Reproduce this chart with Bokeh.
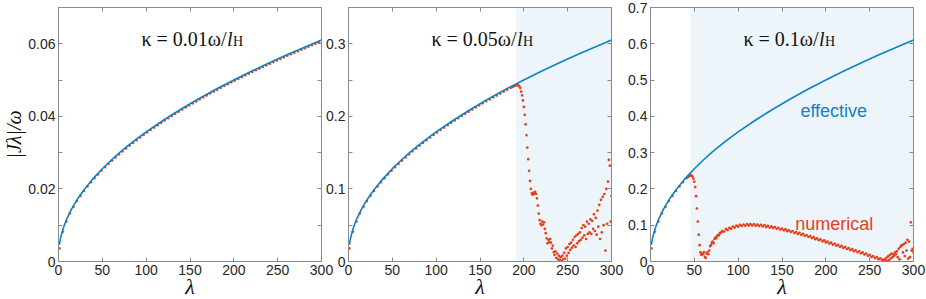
from bokeh.plotting import figure
from bokeh.models import (Range1d, FixedTicker, LinearAxis, BoxAnnotation, Label,
                          ColumnDataSource, PrintfTickFormatter)
from bokeh.layouts import row
from bokeh.embed import file_html
from bokeh.resources import INLINE

# ---------------- data ----------------
kappa_labels = ["0.01", "0.05", "0.1"]
y_max = [0.07, 0.35, 0.7]
y_major = [[0, 0.02, 0.04, 0.06], [0, 0.1, 0.2, 0.3], [0, 0.1, 0.2, 0.3, 0.4, 0.5, 0.6, 0.7]]
y_minor = [[0.01, 0.03, 0.05, 0.07], [0.05, 0.15, 0.25, 0.35], []]
x_ticks = [0, 50, 100, 150, 200, 250, 300]
shade_start = [None, 191.0, 45.5]

lam_eff = [1, 2, 3, 5, 7, 10, 15, 20, 25, 30, 40, 50, 60, 70, 80, 90, 100,
           120, 140, 160, 180, 200, 220, 240, 260, 280, 300]
eff_k001 = [0.00456, 0.00599, 0.00709, 0.00884, 0.01025, 0.01204, 0.01450, 0.01657, 0.01840,
            0.02005, 0.02298, 0.02557, 0.02790, 0.03005, 0.03205, 0.03392, 0.03570, 0.03900,
            0.04204, 0.04487, 0.04752, 0.05003, 0.05242, 0.05470, 0.05689, 0.05900, 0.06103]
eff_k005 = [0.0228, 0.0300, 0.0355, 0.0442, 0.0513, 0.0602, 0.0725, 0.0829, 0.0920, 0.1003,
            0.1149, 0.1279, 0.1395, 0.1503, 0.1603, 0.1696, 0.1785, 0.1950, 0.2102, 0.2244,
            0.2376, 0.2502, 0.2621, 0.2735, 0.2845, 0.2950, 0.3052]
eff_k010 = [0.0456, 0.0599, 0.0709, 0.0884, 0.1025, 0.1204, 0.1450, 0.1657, 0.1840, 0.2005,
            0.2298, 0.2557, 0.2790, 0.3005, 0.3205, 0.3392, 0.3570, 0.3900, 0.4204, 0.4487,
            0.4752, 0.5003, 0.5242, 0.5470, 0.5689, 0.5900, 0.6103]

lam_num_k001 = list(range(1, 298, 4))
num_k001 = [0.0036, 0.0082, 0.0110, 0.01328, 0.01507, 0.01666, 0.0181, 0.01943, 0.02068, 0.02185,
            0.02295, 0.02401, 0.02502, 0.02599, 0.02692, 0.02782, 0.02869, 0.02954, 0.03036, 0.03116,
            0.03194, 0.03270, 0.03344, 0.03417, 0.03488, 0.03557, 0.03625, 0.03692, 0.03758, 0.03823,
            0.03886, 0.03948, 0.04010, 0.04070, 0.04130, 0.04188, 0.04247, 0.04304, 0.04360, 0.04415,
            0.04470, 0.04524, 0.04578, 0.04631, 0.04683, 0.04735, 0.04786, 0.04837, 0.04887, 0.04937,
            0.04985, 0.05034, 0.05082, 0.05130, 0.05177, 0.05224, 0.05270, 0.05316, 0.05361, 0.05407,
            0.05451, 0.05496, 0.05540, 0.05584, 0.05627, 0.05670, 0.05713, 0.05755, 0.05797, 0.05839,
            0.05880, 0.05921, 0.05962, 0.06003, 0.06043]

lam_num_k005 = list(range(1, 186, 4)) + list(range(187, 301))
num_k005 = [0.018, 0.041, 0.055, 0.0664, 0.0754, 0.0833, 0.0905, 0.0972, 0.1034, 0.1093,
            0.1148, 0.1201, 0.1251, 0.1300, 0.1346, 0.1391, 0.1435, 0.1477, 0.1518, 0.1558,
            0.1597, 0.1635, 0.1672, 0.1709, 0.1744, 0.1779, 0.1813, 0.1846, 0.1879, 0.1912,
            0.1943, 0.1974, 0.2005, 0.2035, 0.2065, 0.2094, 0.2124, 0.2152, 0.2180, 0.2208,
            0.2235, 0.2262, 0.2289, 0.2316, 0.2342, 0.2368, 0.2393,
            # lambda 187 .. 300
            0.2405, 0.2413, 0.2420, 0.2426, 0.2430, 0.2432, 0.2430, 0.2425, 0.2410, 0.2390,
            0.2340, 0.2290, 0.2220, 0.2130, 0.2020, 0.1890, 0.1740, 0.1570, 0.1410, 0.1250,
            0.1110, 0.1000, 0.0940, 0.0920, 0.0950, 0.0930, 0.0960, 0.0930, 0.0870, 0.0770,
            0.0660, 0.0570, 0.0520, 0.0500, 0.0550, 0.0510, 0.0540, 0.0450, 0.0390, 0.0320,
            0.0250, 0.0300, 0.0270, 0.0310, 0.0260, 0.0180, 0.0220, 0.0130, 0.0090, 0.0140,
            0.0050, 0.0110, 0.0030, 0.0080, 0.0020, 0.0060, 0.0010, 0.0080, 0.0030, 0.0120,
            0.0040, 0.0180, 0.0080, 0.0200, 0.0120, 0.0240, 0.0160, 0.0260, 0.0190, 0.0300,
            0.0220, 0.0340, 0.0200, 0.0360, 0.0250, 0.0380, 0.0280, 0.0400, 0.0300, 0.0460,
            0.0330, 0.0500, 0.0360, 0.0480, 0.0310, 0.0550, 0.0380, 0.0520, 0.0400, 0.0580,
            0.0380, 0.0560, 0.0450, 0.0650, 0.0420, 0.0600, 0.0370, 0.0700, 0.0480, 0.0780,
            0.0310, 0.0850, 0.0400, 0.0890, 0.0500, 0.0930, 0.0150, 0.1000, 0.0520, 0.1100,
            0.1400, 0.1320, 0.0550, 0.0900]

lam_num_k010 = (list(range(1, 42, 4)) + list(range(43, 82)) + list(range(82, 265, 2))
                + list(range(265, 301)))
num_k010 = [0.036, 0.082, 0.110, 0.1328, 0.1507, 0.1666, 0.181, 0.1943, 0.2068, 0.2185, 0.2295,
            # lambda 43 .. 81
            0.2330, 0.2355, 0.2370, 0.2375, 0.2365, 0.2335, 0.2280, 0.2200, 0.2050, 0.1800,
            0.1460, 0.1100, 0.0740, 0.0450, 0.0250, 0.0180, 0.0220, 0.0200, 0.0260, 0.0130,
            0.0100, 0.0220, 0.0250, 0.0200, 0.0300, 0.0420, 0.0450, 0.0520, 0.0550, 0.0500,
            0.0620, 0.0660, 0.0640, 0.0700, 0.0730, 0.0720, 0.0780, 0.0790, 0.0810,
            # lambda 82 .. 264 (step 2)
            0.084, 0.0825, 0.089, 0.087, 0.093, 0.0905, 0.096, 0.0935, 0.099, 0.096,
            0.101, 0.0975, 0.102, 0.0985, 0.103, 0.099, 0.103, 0.099, 0.103, 0.0985,
            0.102, 0.0975, 0.101, 0.0965, 0.100, 0.095, 0.098, 0.0935, 0.097, 0.092,
            0.095, 0.090, 0.093, 0.088, 0.091, 0.086, 0.089, 0.0835, 0.086, 0.081,
            0.084, 0.0785, 0.081, 0.076, 0.079, 0.0735, 0.076, 0.0705, 0.073, 0.0675,
            0.070, 0.0645, 0.067, 0.0615, 0.064, 0.0585, 0.061, 0.0555, 0.058, 0.0525,
            0.055, 0.0495, 0.052, 0.0465, 0.049, 0.0435, 0.046, 0.0405, 0.043, 0.0375,
            0.040, 0.0345, 0.037, 0.0315, 0.034, 0.0285, 0.031, 0.0255, 0.028, 0.0225,
            0.025, 0.0195, 0.022, 0.016, 0.018, 0.0125, 0.015, 0.0095, 0.012, 0.0065,
            0.009, 0.005,
            # lambda 265 .. 300
            0.004, 0.002, 0.006, 0.003, 0.010, 0.002, 0.014, 0.004, 0.018, 0.008,
            0.022, 0.012, 0.020, 0.016, 0.025, 0.020, 0.028, 0.012, 0.035, 0.006,
            0.040, 0.044, 0.045, 0.025, 0.048, 0.015, 0.052, 0.030, 0.060, 0.008,
            0.055, 0.012, 0.108, 0.030, 0.035, 0.025]

effective = [eff_k001, eff_k005, eff_k010]
lam_num = [lam_num_k001, lam_num_k005, lam_num_k010]
numerical = [num_k001, num_k005, num_k010]

# ---------------- styling ----------------
BLUE = "#0a84c6"
RED = "#e4411b"
SHADE = "#eef5fa"
AXC = "#8a8a8a"
TXT = "#262626"
FRAME_W, FRAME_H = 263, 254
borders_left = [56, 25, 37]
borders_right = [13, 13, 15]
margins = [(0, -11, 0, 0), (0, -11, 0, 0), (0, 0, 0, 0)]


def style_axis(ax, labels=True):
    ax.axis_line_color = AXC
    ax.major_tick_line_color = AXC
    ax.minor_tick_line_color = AXC
    ax.major_tick_in = 4
    ax.major_tick_out = 0
    ax.minor_tick_in = 4
    ax.minor_tick_out = 0
    ax.major_label_text_font = "Liberation Sans"
    ax.formatter = PrintfTickFormatter(format="%g")
    if labels:
        ax.major_label_text_font_size = "14px"
        ax.major_label_text_color = TXT
        ax.major_label_standoff = 3
    else:
        ax.major_label_text_font_size = "0px"
        ax.major_label_text_color = None
        ax.major_label_text_alpha = 0
        ax.major_label_standoff = 0


panels = []
for i in range(3):
    p = figure(frame_width=FRAME_W, frame_height=FRAME_H,
               x_range=Range1d(0, 300), y_range=Range1d(0, y_max[i]),
               output_backend="svg", toolbar_location=None,
               min_border_left=borders_left[i], min_border_right=borders_right[i],
               min_border_top=7, min_border_bottom=38, margin=margins[i])
    p.border_fill_color = None
    p.background_fill_color = "white"
    p.outline_line_color = AXC
    p.grid.visible = False

    bottom_ax = p.below[0]
    left_ax = p.left[0]
    xt = FixedTicker(ticks=x_ticks, minor_ticks=[])
    yt = FixedTicker(ticks=y_major[i], minor_ticks=y_minor[i])
    bottom_ax.ticker = xt
    left_ax.ticker = yt
    style_axis(bottom_ax)
    style_axis(left_ax)
    top = LinearAxis(ticker=xt)
    style_axis(top, labels=False)
    right = LinearAxis(ticker=yt)
    style_axis(right, labels=False)
    p.add_layout(top, "above")
    p.add_layout(right, "right")

    bottom_ax.axis_label = "λ"
    bottom_ax.axis_label_text_font = "Liberation Serif"
    bottom_ax.axis_label_text_font_style = "italic"
    bottom_ax.axis_label_text_font_size = "22px"
    bottom_ax.axis_label_text_color = "#111111"
    bottom_ax.axis_label_standoff = -4

    if i == 0:
        left_ax.axis_label = "|Jλ|/ω"
        left_ax.axis_label_text_font = "Liberation Serif"
        left_ax.axis_label_text_font_style = "italic"
        left_ax.axis_label_text_font_size = "20px"
        left_ax.axis_label_text_color = "#111111"
        left_ax.axis_label_standoff = 0

    if shade_start[i] is not None:
        p.add_layout(BoxAnnotation(left=shade_start[i], right=300, fill_color=SHADE,
                                   fill_alpha=1.0, line_color=None, level="underlay"))

    src_n = ColumnDataSource(dict(x=lam_num[i], y=numerical[i]))
    p.scatter("x", "y", source=src_n, size=2.7, marker="circle",
              fill_color=RED, line_color=None)
    src_e = ColumnDataSource(dict(x=lam_eff, y=effective[i]))
    p.line("x", "y", source=src_e, line_color=BLUE, line_width=1.6)

    # panel title: kappa = ... omega / l_H
    xa = 168 / FRAME_W * 300
    ya = y_max[i] * (1 - 31 / FRAME_H)
    p.add_layout(Label(x=xa, y=ya, text="κ = " + kappa_labels[i] + "ω/",
                       text_align="right", text_baseline="alphabetic",
                       text_font="Liberation Serif", text_font_size="20px", text_color="#111111"))
    p.add_layout(Label(x=xa, y=ya, text="l", x_offset=0.5,
                       text_align="left", text_baseline="alphabetic", text_font_style="italic",
                       text_font="Liberation Serif", text_font_size="20px", text_color="#111111"))
    p.add_layout(Label(x=xa, y=ya, text="H", x_offset=6.5, y_offset=-3,
                       text_align="left", text_baseline="alphabetic",
                       text_font="Liberation Serif", text_font_size="14px", text_color="#111111"))
    panels.append(p)

# curve labels in the third panel
panels[2].add_layout(Label(x=171, y=0.416, text="effective", text_align="left",
                           text_baseline="alphabetic", text_font="Liberation Sans",
                           text_font_size="18px", text_color=BLUE))
panels[2].add_layout(Label(x=165, y=0.102, text="numerical", text_align="left",
                           text_baseline="alphabetic", text_font="Liberation Sans",
                           text_font_size="18px", text_color=RED))

layout = row(*panels, spacing=0)
open("out.html", "w").write(file_html(layout, INLINE))
